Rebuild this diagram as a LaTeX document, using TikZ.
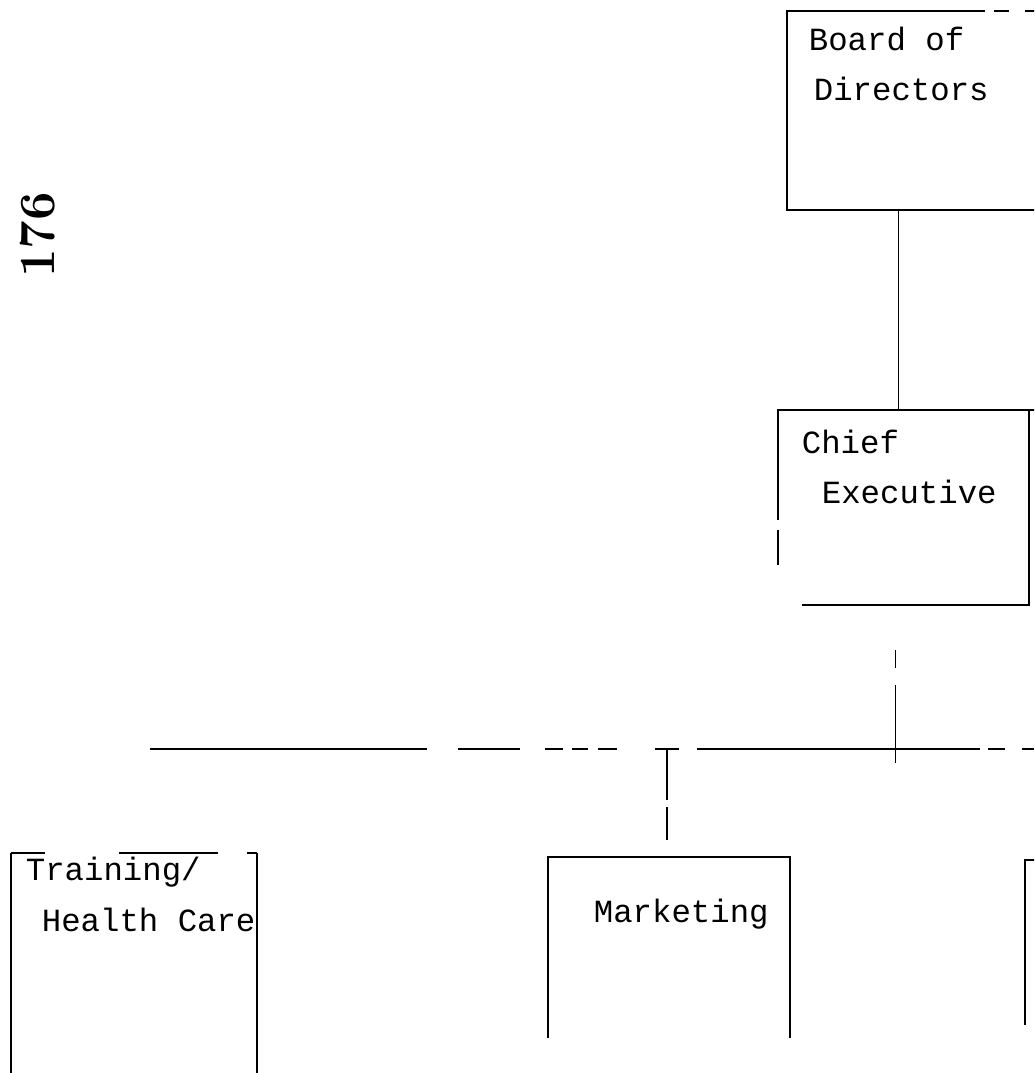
\documentclass[tikz,border=0pt]{standalone}
\usepackage{fontspec}
\newfontfamily\typewriter{Liberation Mono}
\usetikzlibrary{positioning, calc}

\begin{document}
\begin{tikzpicture}[x=0.025cm, y=-0.025cm, line width=1.3pt,
    orgbox/.style={rectangle, inner sep=0pt, outer sep=0pt},
    boxtext/.style={anchor=base west, inner sep=0pt,
                    font=\typewriter\fontsize{23}{27}\selectfont},
    link/.style={line width=1.3pt, black}]
    \useasboundingbox (0,0) rectangle (1034,1073);
    \clip (0,0) rectangle (1034,1073);

    % Page number, turned on its side
    \node[rotate=90, font=\bfseries\fontsize{36}{40}\selectfont] (pagenum) at (38,235) {176};

    % Board of Directors (runs off the right edge)
    \node[orgbox, minimum width=7.825cm, minimum height=4.975cm] (board) at (943.5,110.5) {};
    \draw[link] (board.south east) -- (board.south west) -- (board.north west)
        -- ++(198,0) coordinate (boardtop);
    \draw[link, dash pattern=on 10.7pt off 11.4pt] ($(boardtop)+(9,0)$) -- (board.north east);
    \node[boxtext] (boardline1) at (808,50) {Board of};
    \node[boxtext] (boardline2) at (813,100) {Directors};

    % Chief Executive
    \node[orgbox, minimum width=6.275cm, minimum height=4.875cm] (chief) at (903.5,507.5) {};
    \draw[link] ($(chief.south west)+(0,-85)$) -- (chief.north west) -- ($(chief.north east)+(6,0)$);
    \draw[link] (chief.north east) -- (chief.south east) -- ++(-227,0);
    \draw[link] ($(chief.south west)+(0,-75)$) -- ++(0,35);
    \node[boxtext] (chiefline1) at (801,453) {Chief};
    \node[boxtext] (chiefline2) at (821,503) {Executive};

    % Board to chief
    \draw[link] ($(chief.north |- board.south)+(-5,0)$) -- ($(chief.north)+(-5,0)$);

    % Bus line (broken, as on the copy)
    \coordinate (busy) at (0,749);
    \foreach \a/\b in {150/427, 458/520, 545/563, 572/588, 598/617,
                       655/679, 697/980, 988/1005, 1022/1034} {
        \draw[link] (\a,749) -- (\b,749);
    }

    % Chief down to bus
    \coordinate (jchief) at ($(chief.south |- busy)+(-8,0)$);
    \draw[link] ($(chief.south -| jchief)+(0,45)$) -- ++(0,18);
    \draw[link] ($(chief.south -| jchief)+(0,80)$) -- ($(jchief)+(0,14)$);

    % Training / Health Care
    \node[orgbox, minimum width=6.15cm, minimum height=6.175cm] (training) at (134,976.5) {};
    \draw[link] (training.south west) -- (training.north west);
    \draw[link] (training.south east) -- (training.north east);
    \foreach \a/\b in {11/45, 119/218, 247/257} {
        \draw[link] (\a,853) -- (\b,853);
    }
    \node[boxtext] (trainline1) at (25,880) {Training/};
    \node[boxtext] (trainline2) at (41,931) {Health Care};

    % Marketing
    \node[orgbox, minimum width=6.05cm, minimum height=4.525cm] (marketing) at (669,947.5) {};
    \draw[link] (marketing.south west) -- (marketing.north west)
        -- (marketing.north east) -- (marketing.south east);
    \node[boxtext] (mktline) at (593,922) {Marketing};

    % Bus to marketing
    \coordinate (jmkt) at ($(marketing.north |- busy)+(-2,0)$);
    \draw[link] (jmkt) -- ++(0,51);
    \draw[link] ($(jmkt)+(0,58)$) -- ($(marketing.north -| jmkt)+(0,-17)$);

    % Next box, cut by the right edge
    \node[orgbox, minimum width=1.875cm, minimum height=4.125cm] (nextbox) at (1062.5,942.5) {};
    \draw[link] (nextbox.south west) -- (nextbox.north west) -- (nextbox.north east);
\end{tikzpicture}
\end{document}
